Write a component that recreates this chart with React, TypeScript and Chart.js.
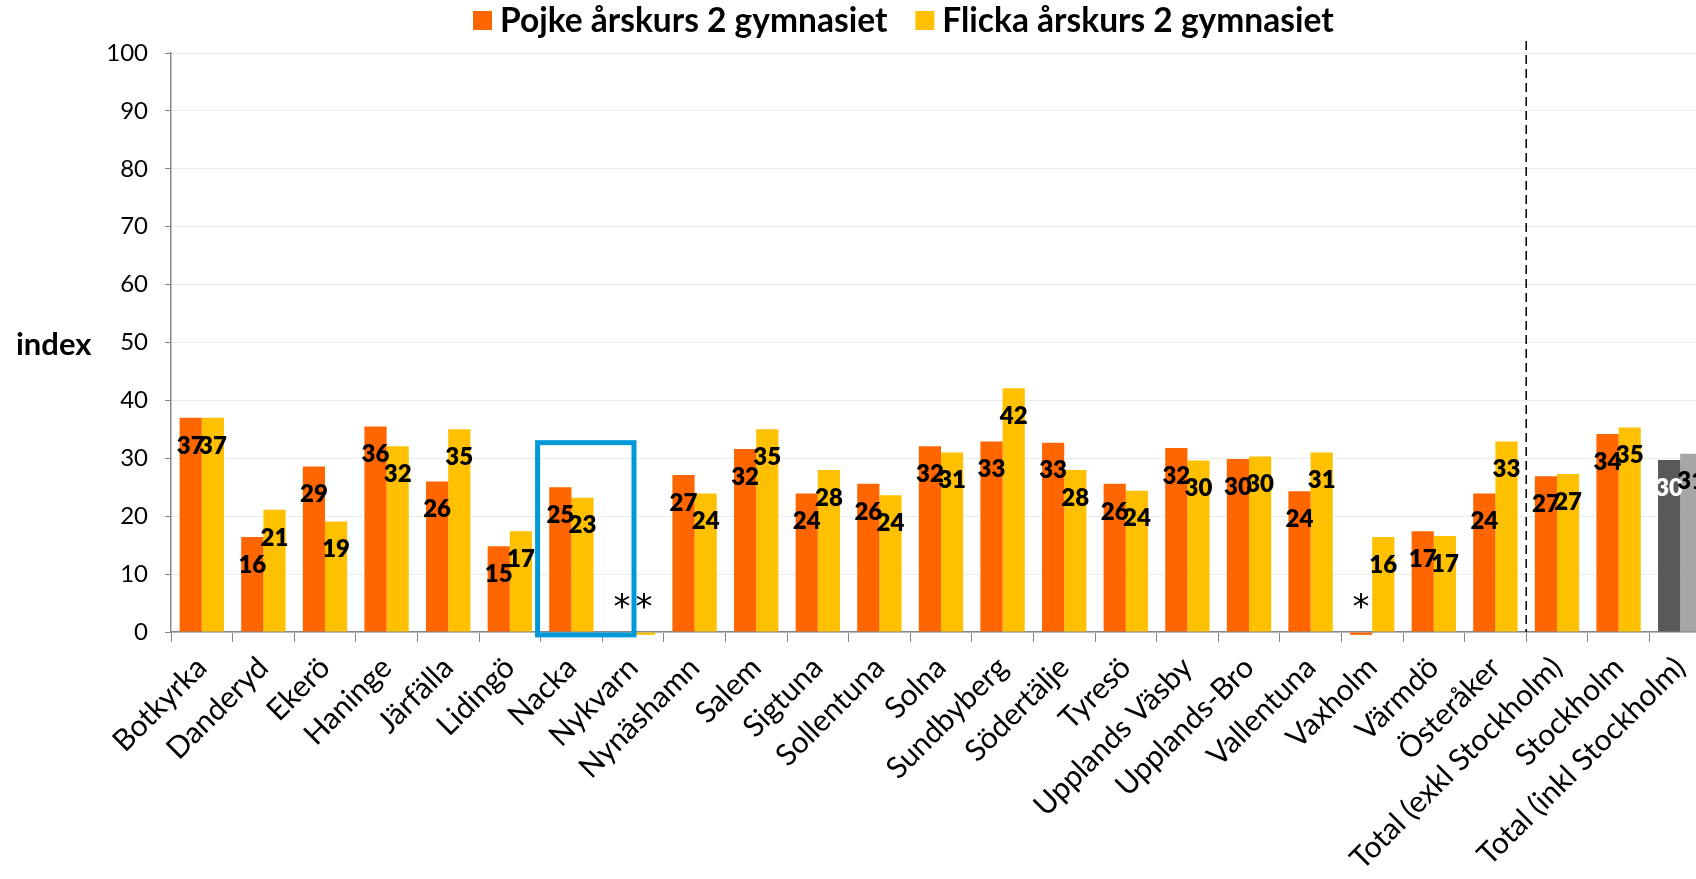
import React, { useEffect, useRef } from 'react';
import { Chart, registerables } from 'chart.js';

Chart.register(...registerables);

const categories = [
  'Botkyrka', 'Danderyd', 'Ekerö', 'Haninge', 'Järfälla', 'Lidingö', 'Nacka', 'Nykvarn',
  'Nynäshamn', 'Salem', 'Sigtuna', 'Sollentuna', 'Solna', 'Sundbyberg', 'Södertälje', 'Tyresö',
  'Upplands Väsby', 'Upplands-Bro', 'Vallentuna', 'Vaxholm', 'Värmdö', 'Österåker',
  'Total (exkl Stockholm)', 'Stockholm', 'Total (inkl Stockholm)',
];

const pojke = [
  37.0, 16.4, 28.6, 35.5, 26.0, 14.8, 25.0, null, 27.1, 31.6, 23.9, 25.6, 32.1, 32.9, 32.7, 25.6,
  31.8, 29.9, 24.3, -0.5, 17.4, 23.9, 26.9, 34.2, 29.7,
];

const flicka = [
  37.0, 21.1, 19.1, 32.1, 35.0, 17.4, 23.2, -0.5, 23.9, 35.0, 28.0, 23.6, 31.0, 42.1, 28.0, 24.4,
  29.6, 30.3, 31.0, 16.4, 16.6, 32.9, 27.3, 35.3, 30.8,
];

const seriesNames = ['Pojke årskurs 2 gymnasiet', 'Flicka årskurs 2 gymnasiet'];
const yAxisTitle = 'index';
const yMin = 0;
const yMax = 100;
const yStep = 10;
const highlightCategory = 'Total (inkl Stockholm)';
const dividerAfterCategory = 'Österåker';
const boxedCategories = ['Nacka', 'Nykvarn'];
const boxTopValue = 32.7;
const missingMarkerValue = 5;

const ORANGE = '#FF6600';
const YELLOW = '#FFC000';
const DARK_GRAY = '#595959';
const LIGHT_GRAY = '#A6A6A6';
const BLUE = '#0099D8';
const FONT = 'Lato, "Open Sans", sans-serif';

const W = 1740;
const H = 879;

const overlayPlugin = {
  id: 'overlay',
  afterDatasetsDraw(chart: any) {
    const { ctx, chartArea, scales } = chart;
    const x = scales.x;
    const y = scales.y;
    ctx.save();
    chart.data.datasets.forEach((ds: any, di: number) => {
      const meta = chart.getDatasetMeta(di);
      meta.data.forEach((bar: any, i: number) => {
        const v = ds.data[i];
        ctx.textAlign = 'center';
        ctx.textBaseline = 'middle';
        if (v == null || v < 0) {
          ctx.font = `400 34px "DejaVu Sans", ${FONT}`;
          ctx.fillStyle = '#000';
          ctx.fillText('*', bar.x, y.getPixelForValue(missingMarkerValue) + 6);
        } else {
          ctx.font = `800 24px ${FONT}`;
          ctx.fillStyle = categories[i] === highlightCategory && di === 0 ? '#FFFFFF' : '#000000';
          ctx.fillText(String(Math.round(v)), bar.x, bar.y + 28);
        }
      });
    });

    const di = categories.indexOf(dividerAfterCategory);
    const dx = (x.getPixelForValue(di) + x.getPixelForValue(di + 1)) / 2;
    ctx.strokeStyle = '#000';
    ctx.lineWidth = 1.5;
    ctx.setLineDash([9, 5]);
    ctx.beginPath();
    ctx.moveTo(dx, chartArea.top - 12);
    ctx.lineTo(dx, chartArea.bottom);
    ctx.stroke();
    ctx.setLineDash([]);

    const b0 = categories.indexOf(boxedCategories[0]);
    const b1 = categories.indexOf(boxedCategories[1]);
    const half = (x.getPixelForValue(1) - x.getPixelForValue(0)) / 2;
    const left = x.getPixelForValue(b0) - half - 3;
    const right = x.getPixelForValue(b1) + 1;
    const top = y.getPixelForValue(boxTopValue);
    const bottom = y.getPixelForValue(-0.5);
    ctx.strokeStyle = BLUE;
    ctx.lineWidth = 5;
    ctx.strokeRect(left, top, right - left, bottom - top);

    ctx.font = `700 31px ${FONT}`;
    ctx.fillStyle = '#000';
    ctx.textAlign = 'left';
    ctx.textBaseline = 'middle';
    ctx.fillText(yAxisTitle, 16, y.getPixelForValue(50) + 2);

    ctx.font = `700 33.5px ${FONT}`;
    ctx.textBaseline = 'middle';
    const colors = [ORANGE, YELLOW];
    let cx = 473;
    const cy = 21;
    seriesNames.forEach((name, i) => {
      ctx.fillStyle = colors[i];
      ctx.fillRect(cx, cy - 10, 19, 19);
      cx += 27;
      ctx.fillStyle = '#000';
      ctx.fillText(name, cx, cy);
      cx += ctx.measureText(name).width + 28;
    });
    ctx.restore();
  },
};

export default function App() {
  const ref = useRef<HTMLCanvasElement | null>(null);

  useEffect(() => {
    if (!ref.current) return;
    const pojkeColors = categories.map((c) => (c === highlightCategory ? DARK_GRAY : ORANGE));
    const flickaColors = categories.map((c) => (c === highlightCategory ? LIGHT_GRAY : YELLOW));
    const chart = new Chart(ref.current, {
      type: 'bar',
      data: {
        labels: categories,
        datasets: [
          { label: seriesNames[0], data: pojke as any, backgroundColor: pojkeColors, clip: false as any },
          { label: seriesNames[1], data: flicka as any, backgroundColor: flickaColors, clip: false as any },
        ],
      },
      options: {
        animation: false,
        responsive: false,
        maintainAspectRatio: false,
        layout: { padding: { top: 53, right: 29, left: 0, bottom: 0 } },
        datasets: { bar: { categoryPercentage: 0.72, barPercentage: 1.0 } },
        plugins: { legend: { display: false }, tooltip: { enabled: false } },
        scales: {
          x: {
            afterFit: (s: any) => { s.height = H - 632; },
            grid: { drawOnChartArea: false, color: '#868686', tickLength: 10, offset: true },
            border: { color: '#868686', width: 1.5 },
            ticks: {
              autoSkip: false,
              maxRotation: 45,
              minRotation: 45,
              padding: 8,
              color: '#000',
              font: { family: FONT, size: 30 },
            },
          },
          y: {
            min: yMin,
            max: yMax,
            afterFit: (s: any) => { s.width = 171; },
            grid: { color: '#EBEBEB', tickColor: '#868686', tickLength: 6 },
            border: { color: '#868686', width: 1.5 },
            ticks: { stepSize: yStep, color: '#000', padding: 17, font: { family: FONT, size: 24 } },
          },
        },
      },
      plugins: [overlayPlugin],
    });
    return () => chart.destroy();
  }, []);

  return (
    <div style={{ position: 'fixed', left: 0, top: 0, width: 1696, height: 879, overflow: 'hidden', background: '#fff' }}>
      <canvas ref={ref} width={W} height={H} style={{ display: 'block' }} />
    </div>
  );
}
